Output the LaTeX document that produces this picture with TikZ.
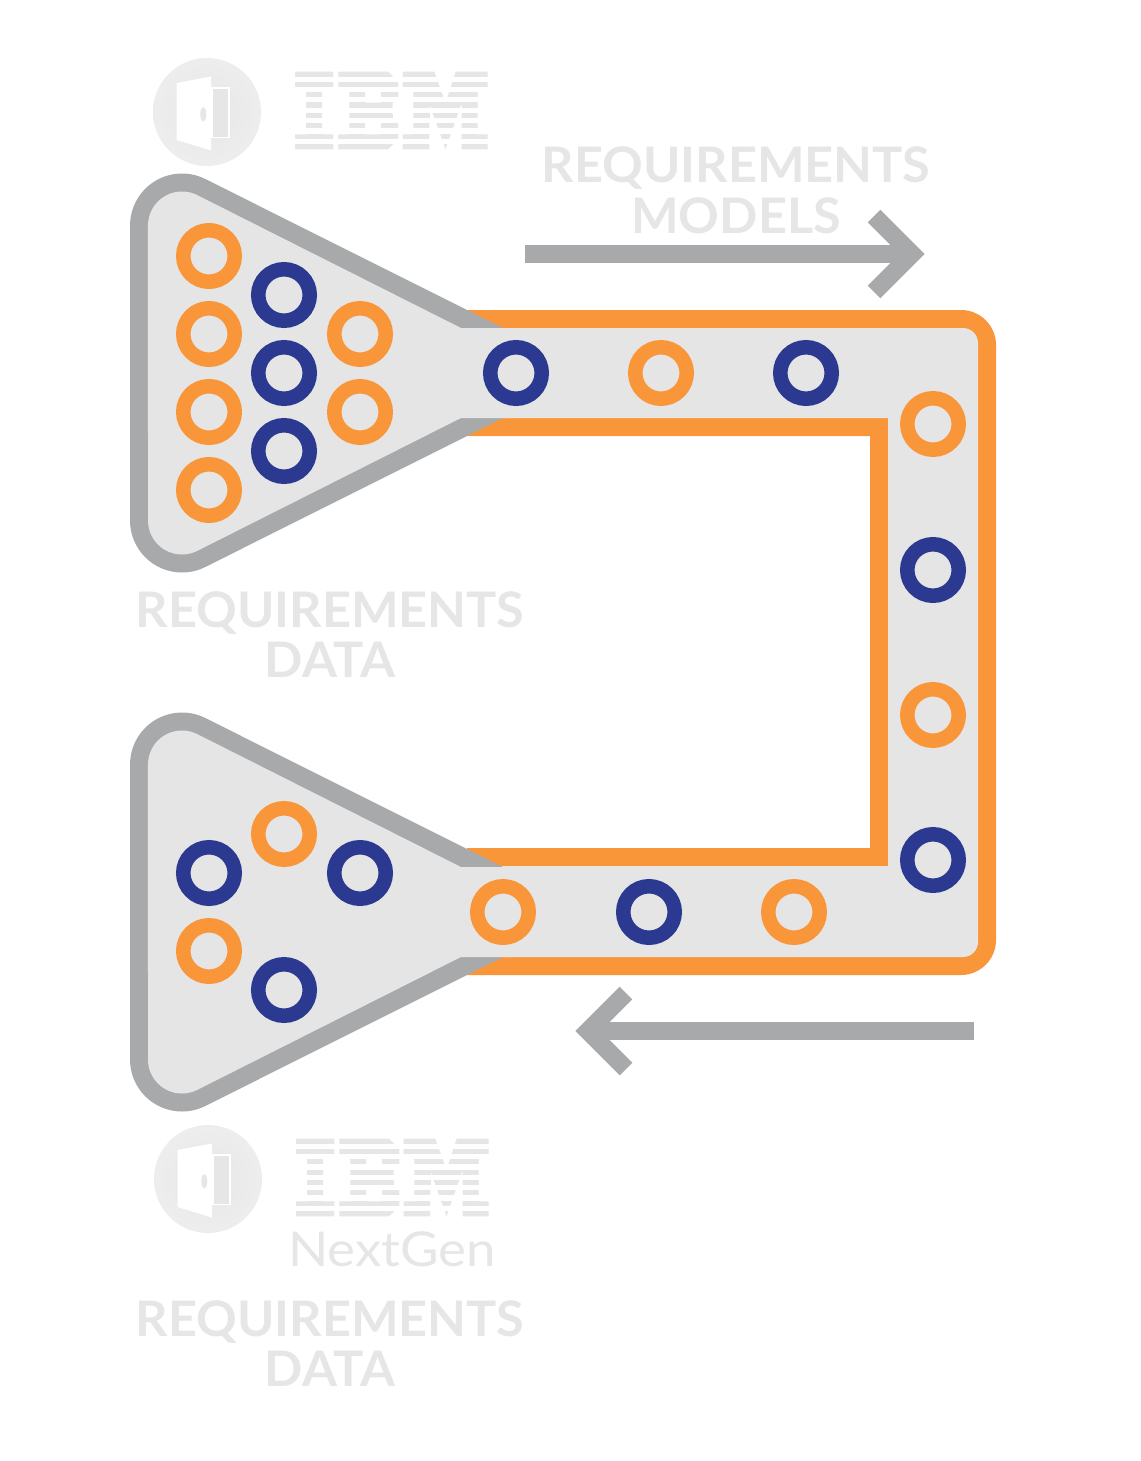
\documentclass[tikz,border=0pt]{standalone}
\usepackage{fontspec}
\usepackage{graphicx}
\setmainfont{Lato}
\newfontfamily\logofont{DejaVu Serif}[BoldFont={DejaVu Serif Bold}]
\definecolor{trackorange}{HTML}{F99639}
\definecolor{ringblue}{HTML}{2B3990}
\definecolor{funnelgray}{HTML}{A8A9AA}
\definecolor{paleback}{HTML}{E5E5E5}
\definecolor{ghosttext}{HTML}{E6E6E6}
\newcommand{\ibmshape}{(295,71.7) -- (333.3,71.7) -- (333.3,87.3) -- (322,87.3) -- (322,134.3) -- (333.3,134.3) -- (333.3,149.3) -- (295,149.3) -- (295,134.3) -- (306,134.3) -- (306,87.3) -- (295,87.3) -- cycle
  (338.3,71.7) -- (388,71.7) -- (398.3,81.7) -- (398.3,97.3) -- (392.7,102.7) -- (392.7,118.3) -- (398.3,123.7) -- (398.3,139.3) -- (388,149.3) -- (338.3,149.3) -- (338.3,134.3) -- (349.3,134.3) -- (349.3,87.3) -- (338.3,87.3) -- cycle
  (365,87.3) rectangle (381,102.7) (365,118.3) rectangle (381,134.3)
  (402.7,71.7) -- (434.3,71.7) -- (445.5,103) -- (455.7,71.7) -- (487.7,71.7) -- (487.7,87.3) -- (477.7,87.3) -- (477.7,134.3) -- (487.7,134.3) -- (487.7,149.3) -- (461.7,149.3) -- (461.7,103) -- (445.5,149.3) -- (429.3,103) -- (429.3,149.3) -- (402.7,149.3) -- (402.7,134.3) -- (413.3,134.3) -- (413.3,87.3) -- (402.7,87.3) -- cycle}
\tikzset{
  orangering/.style = {circle, draw=trackorange, fill=paleback, line width=7.25pt, minimum size=25.75pt, inner sep=0pt},
  bluering/.style = {circle, draw=ringblue, fill=paleback, line width=7.25pt, minimum size=25.75pt, inner sep=0pt},
  flowarrow/.style = {draw=funnelgray, line width=9pt},
  ghostlabel/.style = {text=ghosttext, font=\fontsize{24.5}{25}\selectfont\bfseries, xscale=1.03, inner sep=0pt, anchor=base},
  funnel/.pic = {
    \fill[funnelgray] (503,328) -- (205.3,179) arc (296.57:180:52) -- (130,520.5) arc (180:63.43:52) -- (503,418) -- cycle;
    \fill[paleback] (510,328) -- (461,328) -- (197.2,195.1) arc (296.57:180:34) -- (148,520.5) arc (180:63.43:34) -- (461,418) -- (510,418) -- cycle;
  },
  doorbadge/.pic = {
    \shade[inner color=ghosttext, outer color=ghosttext!70!white] (207,112) circle (54);
    \fill[white] (176.5,83) -- (211,76.5) -- (211,150.5) -- (176.5,140) -- cycle;
    \fill[white] (211,87.3) rectangle (230,138.3);
    \fill[ghosttext] (213.3,89) rectangle (228.3,136.7);
    \fill[ghosttext] (203.3,114.3) ellipse (3 and 7);
  },
  ibmlogo/.pic = {
    \begin{scope}[even odd rule]
    \fill[ghosttext] \ibmshape;
    \clip \ibmshape;
    \node[text=ghosttext, inner sep=0pt, anchor=south west] (-word) at (295,149.3) {\resizebox{96.5pt}{38.8pt}{\logofont\bfseries IBM}};
    \end{scope}
    \foreach \k in {0,...,6}
      \fill[white] (290,76.7+10.35*\k) rectangle (494,81.8+10.35*\k);
  }
}
\begin{document}
\begin{tikzpicture}[x=0.5pt,y=-0.5pt]
\useasboundingbox (0,0) rectangle (1140,1461);
\fill[white] (0,0) rectangle (1140,1461);
% track
\fill[trackorange] (467,310) -- (961,310) arc (270:360:35) -- (996,940) arc (0:90:35) -- (467,975) -- (467,848) -- (870,848) -- (870,436) -- (467,436) -- cycle;
\fill[paleback] (461,328) -- (963,328) arc (270:360:15) -- (978,942) arc (0:90:15) -- (461,957) -- (461,866) -- (888,866) -- (888,418) -- (461,418) -- cycle;
\pic (topfunnel) {funnel};
\pic[yshift=-269.5pt] (lowfunnel) {funnel};
% rings
\node[orangering] (topa) at (209,256) {};
\node[orangering] (topb) at (209,334) {};
\node[orangering] (topc) at (209,412) {};
\node[orangering] (topd) at (209,490) {};
\node[bluering] (tope) at (284,295) {};
\node[bluering] (topf) at (284,373) {};
\node[bluering] (topg) at (284,451) {};
\node[orangering] (toph) at (360,334) {};
\node[orangering] (topi) at (360,412) {};
\node[bluering] (runa) at (516,373) {};
\node[orangering] (runb) at (661,373) {};
\node[bluering] (runc) at (806,373) {};
\node[orangering] (sidea) at (933,424) {};
\node[bluering] (sideb) at (933,570) {};
\node[orangering] (sidec) at (933,715) {};
\node[bluering] (sided) at (933,860) {};
\node[orangering] (backa) at (794,912) {};
\node[bluering] (backb) at (649,912) {};
\node[orangering] (backc) at (503,912) {};
\node[bluering] (lowa) at (209,873) {};
\node[orangering] (lowb) at (284,834) {};
\node[bluering] (lowc) at (360,873) {};
\node[orangering] (lowd) at (209,951) {};
\node[bluering] (lowe) at (284,990) {};
% arrows
\coordinate (modelsfrom) at (525,254);
\coordinate (modelsto) at (912,254);
\coordinate (returnfrom) at (974,1031);
\coordinate (returnto) at (588,1031);
\draw[flowarrow] (modelsfrom) -- (modelsto);
\draw[flowarrow] (modelsto) ++(-38,-38) -- (modelsto) -- ++(-38,38);
\draw[flowarrow] (returnfrom) -- (returnto);
\draw[flowarrow] (returnto) ++(38,-38) -- (returnto) -- ++(38,38);
% logos
\pic (topdoor) {doorbadge};
\pic (topibm) {ibmlogo};
\pic[xshift=0.5pt,yshift=-533.5pt] (lowdoor) {doorbadge};
\pic[xshift=0.5pt,yshift=-533.5pt] (lowibm) {ibmlogo};
\node[text=ghosttext, font=\fontsize{24}{25}\selectfont, xscale=1.1, inner sep=0pt, anchor=base] (nextgen) at (392,1266) {NextGen};
% labels
\node[ghostlabel] (modelslabel) at (736,183) {REQUIREMENTS};
\node[ghostlabel] (modelslabelb) at (736,233) {MODELS};
\node[ghostlabel] (datalabel) at (330,627) {REQUIREMENTS};
\node[ghostlabel] (datalabelb) at (330,677) {DATA};
\node[ghostlabel] (lowlabel) at (330,1336) {REQUIREMENTS};
\node[ghostlabel] (lowlabelb) at (330,1386) {DATA};
\end{tikzpicture}
\end{document}
